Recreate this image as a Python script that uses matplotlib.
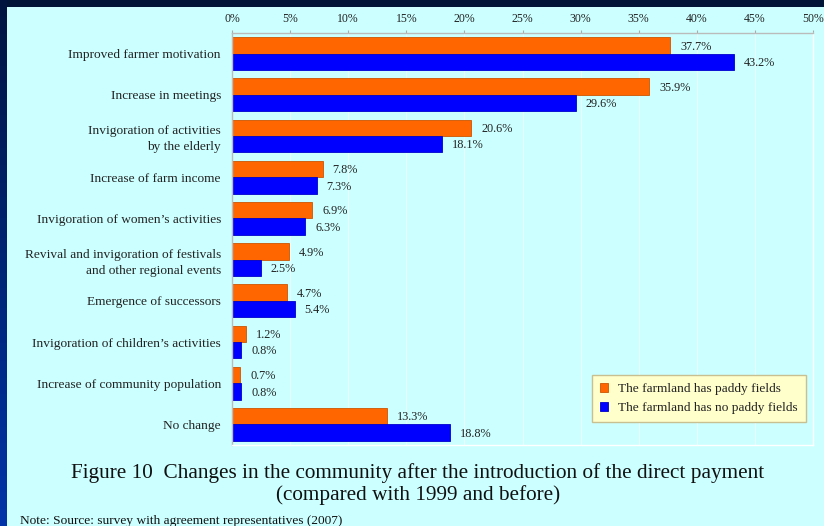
import numpy as np
import matplotlib
matplotlib.use('Agg')
import matplotlib.pyplot as plt
from matplotlib.ticker import FuncFormatter

plt.rcParams['font.family'] = ['Liberation Serif', 'DejaVu Serif']

categories = ['Improved farmer motivation', 'Increase in meetings',
              'Invigoration of activities\nby the elderly', 'Increase of farm income',
              'Invigoration of women\u2019s activities',
              'Revival and invigoration of festivals\nand other regional events',
              'Emergence of successors', 'Invigoration of children\u2019s activities',
              'Increase of community population', 'No change']
paddy = [37.7, 35.9, 20.6, 7.8, 6.9, 4.9, 4.7, 1.2, 0.7, 13.3]
no_paddy = [43.2, 29.6, 18.1, 7.3, 6.3, 2.5, 5.4, 0.8, 0.8, 18.8]
series_names = ['The farmland has paddy fields', 'The farmland has no paddy fields']

bg = '#CCFFFF'
fig = plt.figure(figsize=(8.24, 5.26), dpi=100, facecolor=bg)

# dark frame: top band and left gradient band
top = fig.add_axes([0, 1 - 7 / 526, 1, 7 / 526])
top.set_axis_off()
top.add_patch(plt.Rectangle((0, 0), 1, 1, color='#001438', transform=top.transAxes))
left = fig.add_axes([0, 0, 7 / 824, 1])
grad = np.linspace(0, 1, 256).reshape(-1, 1)
cmap = matplotlib.colors.LinearSegmentedColormap.from_list('b', ['#001440', '#0034A8'])
left.imshow(grad, aspect='auto', cmap=cmap, origin='upper')
left.set_axis_off()

ax = fig.add_axes([232 / 824, 1 - 445 / 526, (813 - 232) / 824, (445 - 33) / 526])
ax.set_facecolor(bg)

y = np.arange(len(categories))
h = 0.4
b1 = ax.barh(y - h / 2, paddy, height=h, color='#FF6600', edgecolor='#CC5500', linewidth=0.6,
             label=series_names[0])
b2 = ax.barh(y + h / 2, no_paddy, height=h, color='#0000FF', edgecolor='#0000CC', linewidth=0.6,
             label=series_names[1])

for bars, vals in ((b1, paddy), (b2, no_paddy)):
    for bar, v in zip(bars, vals):
        ax.text(v + 0.85, bar.get_y() + bar.get_height() / 2 + 0.03, '%.1f%%' % v,
                va='center', ha='left', fontsize=8.8, color='#222222')

ax.set_xlim(0, 50)
ax.set_ylim(len(categories) - 0.5, -0.5)
ax.set_xticks(np.arange(0, 51, 5))
ax.xaxis.set_major_formatter(FuncFormatter(lambda v, p: '%d%%' % v))
ax.xaxis.tick_top()
ax.tick_params(axis='x', direction='out', length=2.5, color='#AAAAAA', labelsize=8.5,
               labelcolor='#222222', pad=3.3)
ax.set_yticks(y)
ax.set_yticklabels(categories, fontsize=9.6, color='#222222', linespacing=1.4)
ax.tick_params(axis='y', length=0, pad=8)
ax.grid(axis='x', color='#E6FFFF', linewidth=0.8)
ax.set_axisbelow(True)
ax.spines['top'].set_color('#BBBBBB')
ax.spines['left'].set_color('#BBBBBB')
ax.spines['right'].set_color('white')
ax.spines['bottom'].set_color('white')
for s in ax.spines.values():
    s.set_linewidth(1)

leg = ax.legend(loc='lower right', bbox_to_anchor=(0.988, 0.0558), borderaxespad=0,
                fontsize=9.6, frameon=True, fancybox=False, handlelength=0.6, handleheight=0.6,
                handletextpad=0.8, borderpad=0.6, labelspacing=0.5)
leg.get_frame().set_facecolor('#FFFFCC')
leg.get_frame().set_edgecolor('#C8C090')
leg.get_frame().set_alpha(1)
for t in leg.get_texts():
    t.set_color('#222222')

fig.text(418 / 824, 1 - 473 / 526, 'Figure 10  Changes in the community after the introduction of the direct payment',
         ha='center', va='center', fontsize=15.3, color='#111111')
fig.text(418 / 824, 1 - 495 / 526, '(compared with 1999 and before)',
         ha='center', va='center', fontsize=15.3, color='#111111')
fig.text(20 / 824, 1 - 521 / 526, 'Note: Source: survey with agreement representatives (2007)',
         ha='left', va='center', fontsize=9.6, color='#111111')

fig.savefig('out.png', dpi=100, facecolor=bg)
